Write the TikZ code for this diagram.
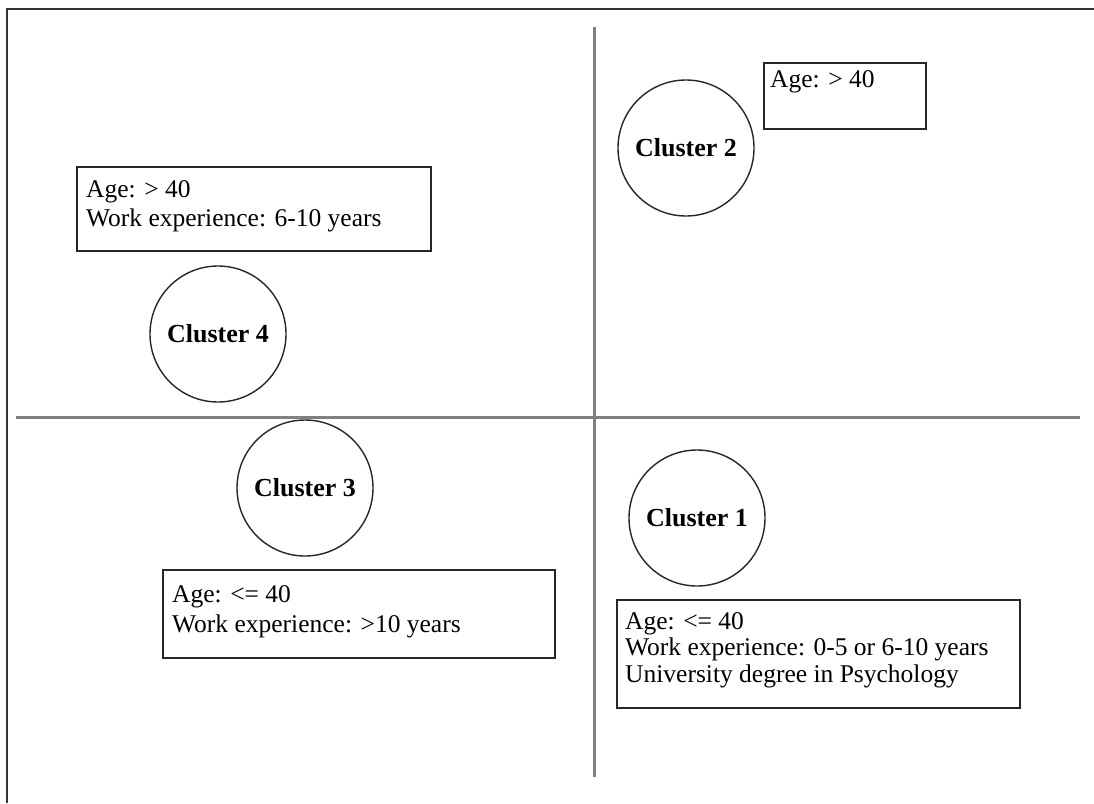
\documentclass[tikz,border=0pt]{standalone}
\usepackage{fontspec}
\setmainfont{Liberation Serif}
\begin{document}
\begin{tikzpicture}[x=1pt,y=-1pt,
  frame/.style={draw=black!80,line width=2pt},
  axis/.style={draw=black!50,line width=3pt},
  cluster/.style={circle,draw=black!85,line width=1.4pt,minimum size=136pt,inner sep=0pt,font=\fontsize{26}{30}\selectfont\bfseries},
  infobox/.style={draw=black!85,line width=2pt,anchor=north west,inner sep=0pt},
  txt/.style={anchor=base west,inner sep=0pt,font=\fontsize{25.5}{29}\selectfont}]
\useasboundingbox (0,0) rectangle (1094,803);
% frame
\coordinate (f1) at (7,803);
\coordinate (f2) at (7,9);
\coordinate (f3) at (1094,9);
\draw[frame] (f1) -- (f2) -- (f3);
% axes
\coordinate (vt) at (594,27);
\coordinate (vb) at (594,777);
\coordinate (hl) at (16,417);
\coordinate (hr) at (1080,417);
\draw[axis] (vt) -- (vb);
\draw[axis] (hl) -- (hr);
% clusters
\node[cluster] (c2) at (686,148) {Cluster 2};
\node[cluster] (c4) at (218,334) {Cluster 4};
\node[cluster] (c3) at (305,488) {Cluster 3};
\node[cluster] (c1) at (697,518) {Cluster 1};
% boxes
\node[infobox,minimum width=162pt,minimum height=66pt] (b2) at (763,62) {};
\node[txt] (b2a) at (770,87) {Age: > 40};
\node[infobox,minimum width=354pt,minimum height=84pt] (b4) at (76,166) {};
\node[txt] (b4a) at (86,197) {Age: > 40};
\node[txt] (b4b) at (86,226) {Work experience: 6-10 years};
\node[infobox,minimum width=392pt,minimum height=88pt] (b3) at (162,569) {};
\node[txt] (b3a) at (172,602) {Age: <= 40};
\node[txt] (b3b) at (172,632) {Work experience: >10 years};
\node[infobox,minimum width=403pt,minimum height=108pt] (b1) at (616,599) {};
\node[txt] (b1a) at (625,629) {Age: <= 40};
\node[txt] (b1b) at (625,655) {Work experience: 0-5 or 6-10 years};
\node[txt] (b1c) at (625,682) {University degree in Psychology};
\end{tikzpicture}
\end{document}
